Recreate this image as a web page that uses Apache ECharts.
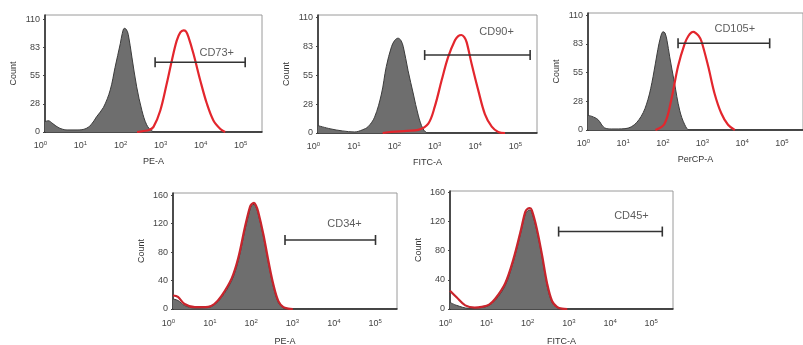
<!DOCTYPE html>
<html>
<head>
<meta charset="utf-8">
<script src="https://cdn.jsdelivr.net/npm/echarts@6/dist/echarts.min.js"></script>
<style>
  html, body { margin: 0; padding: 0; background: #fff; }
  #chart { width: 803px; height: 345px; }
</style>
</head>
<body>
<div id="chart"></div>
<script>
  // Histogrammes : [décade log10, nombre d'événements]
  const xNames = ['PE-A', 'FITC-A', 'PerCP-A', 'PE-A', 'FITC-A'];
  const gateNames = ['CD73+', 'CD90+', 'CD105+', 'CD34+', 'CD45+'];
  const yTicksTop = [0, 28, 55, 83, 110];
  const yTicksBottom = [0, 40, 80, 120, 160];
  const xTickLabels = ['0', '1', '2', '3', '4', '5'];

  // contrôle isotypique (gris) et marquage (rouge)
  const iso1 = [[0,10],[0.08,11],[0.2,8],[0.35,4],[0.55,2],[0.8,2],[1.0,3],[1.15,7],[1.29,15],[1.46,24],[1.63,41],[1.75,63],[1.88,86],[1.93,96],[1.98,101],[2.03,100],[2.08,95],[2.17,73],[2.29,44],[2.42,21],[2.54,7],[2.67,1],[2.8,0],[5.42,0]];
  const stain1 = [[2.3,0],[2.46,1],[2.6,2],[2.71,5],[2.88,21],[3.04,47],[3.17,70],[3.29,89],[3.38,97],[3.46,99],[3.52,98],[3.58,93],[3.71,76],[3.88,50],[4.04,28],[4.21,11],[4.38,3],[4.5,0]];
  const iso2 = [[0,7],[0.3,4],[0.6,2],[0.91,1],[1.1,3],[1.24,6],[1.4,15],[1.57,37],[1.69,63],[1.82,82],[1.9,88],[1.98,90],[2.05,88],[2.11,82],[2.23,59],[2.36,37],[2.48,17],[2.6,4],[2.73,0],[5.42,0]];
  const stain2 = [[1.6,0],[1.82,1],[2.2,2],[2.48,3],[2.73,9],[2.89,25],[3.06,50],[3.22,72],[3.39,88],[3.47,92],[3.55,93],[3.62,91],[3.68,86],[3.8,66],[3.97,40],[4.13,18],[4.3,6],[4.46,1],[4.63,0]];
  const iso3 = [[0,14],[0.1,13],[0.25,10],[0.42,2],[0.6,1],[0.76,1],[1.09,3],[1.34,13],[1.51,29],[1.64,51],[1.76,77],[1.83,89],[1.89,94],[1.94,93],[1.99,86],[2.06,70],[2.18,45],[2.31,19],[2.44,5],[2.56,0],[5.42,0]];
  const stain3 = [[1.7,0],[1.93,6],[2.1,29],[2.27,61],[2.44,83],[2.53,90],[2.61,93.5],[2.66,94],[2.71,93],[2.79,90],[2.86,85],[3.03,61],[3.19,35],[3.36,16],[3.53,5],[3.7,0]];
  const iso4 = [[0,14],[0.12,12],[0.28,5],[0.53,1.5],[0.85,2],[1.0,6],[1.17,16],[1.42,40],[1.58,68],[1.74,111],[1.86,139],[1.9,145],[1.96,147],[2.01,143],[2.06,134],[2.19,101],[2.31,64],[2.43,31],[2.55,9],[2.67,1.5],[2.79,0],[5.42,0]];
  const stain4 = [[0,19],[0.12,17],[0.28,7],[0.53,2.5],[0.85,3],[1.0,7],[1.17,18],[1.42,43],[1.58,72],[1.74,115],[1.86,143],[1.9,147],[1.96,149],[2.01,145],[2.06,137],[2.19,104],[2.31,67],[2.43,34],[2.55,11],[2.67,2.5],[2.79,0.5],[2.9,0]];
  const iso5 = [[0,9],[0.16,5],[0.45,1],[0.77,2],[0.95,5],[1.1,12],[1.34,32],[1.54,65],[1.71,102],[1.83,130],[1.89,134.5],[1.94,135.5],[1.99,132],[2.11,107],[2.24,70],[2.36,32],[2.48,9],[2.6,2],[2.72,0],[5.42,0]];
  const stain5 = [[0,25],[0.16,16],[0.37,5],[0.6,2],[0.77,3],[0.95,6],[1.1,14],[1.34,35],[1.54,68],[1.71,105],[1.83,133],[1.89,137.5],[1.94,138],[1.99,135],[2.11,110],[2.24,73],[2.36,35],[2.48,11],[2.6,3],[2.72,0.5],[2.85,0]];

  // barres de seuil : [x début, x fin, niveau] et position du texte
  const gates = [[2.75, 5.0, 68], [2.64, 5.25, 74], [2.27, 4.58, 83], [2.71, 4.9, 97], [2.64, 5.16, 106]];
  const gateLabelPos = [[4.29, 77], [4.42, 96], [3.7, 97], [4.15, 120], [4.41, 128]];

  const isoData = [iso1, iso2, iso3, iso4, iso5];
  const stainData = [stain1, stain2, stain3, stain4, stain5];

  // disposition des panneaux (pixels)
  const grids = [
    { left: 45, top: 15, width: 217, height: 117 },
    { left: 318, top: 15, width: 219, height: 118 },
    { left: 588, top: 13, width: 215, height: 117 },
    { left: 173, top: 193, width: 224, height: 116 },
    { left: 450, top: 191, width: 223, height: 118 }
  ];
  const yMax = [114, 112, 112, 163, 161.5];

  const font = 'Liberation Sans, Arial, sans-serif';
  const chart = echarts.init(document.getElementById('chart'));

  const xAxis = [], yAxis = [], series = [];
  grids.forEach((g, i) => {
    const top = i < 3;
    const ticks = top ? yTicksTop : yTicksBottom;
    xAxis.push({
      type: 'value', gridIndex: i, min: 0, max: 5.42, interval: 1,
      name: xNames[i], nameLocation: 'middle', nameGap: top ? 25 : 28,
      nameTextStyle: { fontFamily: font, fontSize: 9, color: '#333' },
      axisLine: { lineStyle: { color: '#222', width: 1.5 } },
      axisTick: { show: false },
      splitLine: { show: false },
      axisLabel: {
        showMaxLabel: false, margin: top ? 8 : 9, padding: [0, 9, 0, 0],
        formatter: v => xTickLabels.indexOf(String(v)) >= 0 ? '{b|10}{s|' + v + '}' : '',
        rich: {
          b: { fontFamily: font, fontSize: 9, color: '#444' },
          s: { fontFamily: font, fontSize: 6, color: '#444', padding: [0, 0, 6, 0] }
        }
      }
    });
    yAxis.push({
      type: 'value', gridIndex: i, min: 0, max: yMax[i], interval: top ? 27.5 : 40,
      name: 'Count', nameLocation: 'middle', nameGap: 27,
      nameTextStyle: { fontFamily: font, fontSize: 9, color: '#333' },
      axisLine: { show: true, lineStyle: { color: '#222', width: 1.5 } },
      axisTick: { show: true, length: 2, lineStyle: { color: '#444' } },
      splitLine: { show: false },
      axisLabel: {
        showMaxLabel: false, margin: 5,
        fontFamily: font, fontSize: 9, color: '#444',
        formatter: v => {
          const r = Math.round(v);
          return ticks.indexOf(r) >= 0 ? String(r) : '';
        }
      }
    });
    series.push({
      type: 'line', xAxisIndex: i, yAxisIndex: i, data: isoData[i],
      smooth: 0.35, showSymbol: false, silent: true,
      lineStyle: { color: '#3c3c3c', width: 1 },
      areaStyle: { color: '#6e6e6e', opacity: 1 }
    });
    series.push({
      type: 'line', xAxisIndex: i, yAxisIndex: i, data: stainData[i],
      smooth: 0.35, showSymbol: false, silent: true,
      lineStyle: { color: top ? '#e3262d' : '#c9242c', width: 2.2 }
    });
    const gt = gates[i];
    series.push({
      type: 'line', xAxisIndex: i, yAxisIndex: i,
      data: [[gt[0], gt[2]], [gt[1], gt[2]]],
      symbol: 'rect', symbolSize: [1.6, 10], showSymbol: true, silent: true,
      lineStyle: { color: '#333', width: 1.6 },
      itemStyle: { color: '#333' }
    });
    series.push({
      type: 'scatter', xAxisIndex: i, yAxisIndex: i,
      data: [gateLabelPos[i]], symbolSize: 1, silent: true,
      itemStyle: { color: 'rgba(0,0,0,0)' },
      label: {
        show: true, position: 'inside', formatter: gateNames[i],
        fontFamily: font, fontSize: 11, color: '#333'
      }
    });
  });

  chart.setOption({
    animation: false,
    grid: grids.map(g => ({
      ...g, show: true, borderColor: '#9a9a9a', borderWidth: 1,
      backgroundColor: 'transparent', outerBoundsMode: 'none'
    })),
    xAxis: xAxis,
    yAxis: yAxis,
    series: series
  });
</script>
</body>
</html>
